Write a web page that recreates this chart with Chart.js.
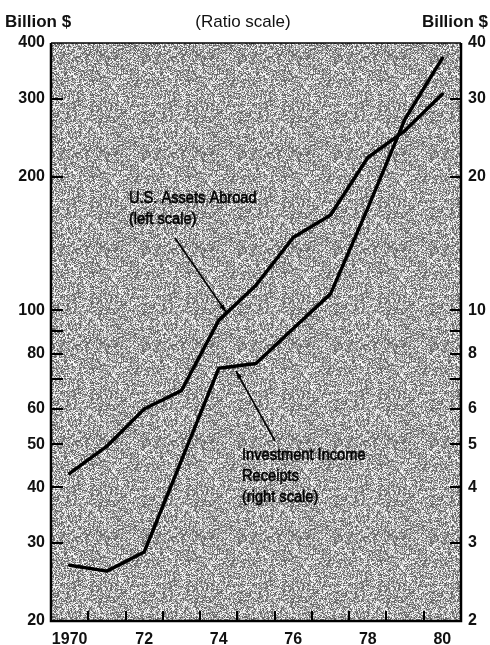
<!DOCTYPE html>
<html>
<head>
<meta charset="utf-8">
<script src="https://cdn.jsdelivr.net/npm/chart.js@4/dist/chart.umd.min.js"></script>
<style>
  html, body { margin: 0; padding: 0; background: #fff; }
  #wrap { width: 490px; height: 645px; position: relative; }
</style>
</head>
<body>
<div id="wrap"><canvas id="c" width="490" height="645"></canvas></div>
<script>
// Years on the horizontal axis and the shortened labels printed under them
const years = ['1970', '1971', '1972', '1973', '1974', '1975', '1976', '1977', '1978', '1979', '1980'];
const yearLabels = ['1970', '', '72', '', '74', '', '76', '', '78', '', '80'];

// U.S. assets abroad, billion $ (left scale)
const assetsAbroad = [43, 49.5, 60, 66, 95, 114, 146, 164, 221, 254, 307];
// Investment income receipts, billion $ (right scale)
const incomeReceipts = [2.67, 2.59, 2.86, 4.6, 7.41, 7.6, 9.11, 10.9, 17.0, 27.0, 37.0];

// Ratio-scale tick marks and which of them carry a label
const leftTicks = [20, 30, 40, 50, 60, 70, 80, 90, 100, 200, 300, 400];
const leftLabels = [20, 30, 40, 50, 60, 80, 100, 200, 300, 400];
const rightTicks = [2, 3, 4, 5, 6, 7, 8, 9, 10, 20, 30, 40];
const rightLabels = [2, 3, 4, 5, 6, 8, 10, 20, 30, 40];

const FONT = "'Liberation Sans', Arial, Helvetica, sans-serif";

// Stippled halftone fill for the plotting area (deterministic hash noise)
function makeStipple() {
  const n = 96;
  const cv = document.createElement('canvas');
  cv.width = n; cv.height = n;
  const g = cv.getContext('2d');
  const img = g.createImageData(n, n);
  for (let y = 0; y < n; y++) {
    for (let x = 0; x < n; x++) {
      let h = (x * 374761393 + y * 668265263) | 0;
      h = Math.imul(h ^ (h >>> 13), 1274126177);
      h = (h ^ (h >>> 16)) >>> 0;
      const r = h % 100;
      let v;
      if (r < 35) v = 105;
      else if (r < 60) v = 160;
      else if (r < 75) v = 205;
      else v = 245;
      const i = (y * n + x) * 4;
      img.data[i] = v; img.data[i + 1] = v; img.data[i + 2] = v; img.data[i + 3] = 255;
    }
  }
  g.putImageData(img, 0, 0);
  return cv;
}
const stipple = makeStipple();

const framePlugin = {
  id: 'frame',
  beforeDatasetsDraw(chart) {
    const { ctx, chartArea: a } = chart;
    ctx.save();
    ctx.fillStyle = ctx.createPattern(stipple, 'repeat');
    ctx.fillRect(a.left, a.top, a.right - a.left, a.bottom - a.top);
    ctx.restore();
  },
  afterDatasetsDraw(chart) {
    const { ctx, chartArea: a, scales } = chart;
    ctx.save();
    ctx.strokeStyle = '#000';
    ctx.lineCap = 'butt';
    // frame
    ctx.lineWidth = 1.5;
    ctx.beginPath();
    ctx.moveTo(a.left, a.top); ctx.lineTo(a.right, a.top);
    ctx.stroke();
    ctx.lineWidth = 2.5;
    ctx.beginPath();
    ctx.moveTo(a.left, a.top); ctx.lineTo(a.left, a.bottom);
    ctx.lineTo(a.right, a.bottom); ctx.lineTo(a.right, a.top);
    ctx.stroke();
    // inward tick marks
    ctx.lineWidth = 2;
    const yl = scales.yL, yr = scales.yR, x = scales.x;
    yl.ticks.forEach(t => {
      if (t.value <= yl.min || t.value >= yl.max) return;
      const py = Math.round(yl.getPixelForValue(t.value));
      ctx.beginPath(); ctx.moveTo(a.left, py); ctx.lineTo(a.left + 12, py); ctx.stroke();
    });
    yr.ticks.forEach(t => {
      if (t.value <= yr.min || t.value >= yr.max) return;
      const py = Math.round(yr.getPixelForValue(t.value));
      ctx.beginPath(); ctx.moveTo(a.right, py); ctx.lineTo(a.right - 11, py); ctx.stroke();
    });
    for (let i = 0; i < years.length - 1; i++) {
      const px = Math.round((x.getPixelForValue(i) + x.getPixelForValue(i + 1)) / 2);
      ctx.beginPath(); ctx.moveTo(px, a.bottom); ctx.lineTo(px, a.bottom - 10); ctx.stroke();
    }
    ctx.restore();
  },
  afterDraw(chart) {
    const { ctx } = chart;
    ctx.save();
    ctx.fillStyle = '#111';
    ctx.textBaseline = 'middle';
    ctx.font = 'bold 17px ' + FONT;
    ctx.textAlign = 'left';
    ctx.fillText('Billion $', 5, 22);
    ctx.textAlign = 'right';
    ctx.fillText('Billion $', 488, 22);
    ctx.font = '17px ' + FONT;
    ctx.textAlign = 'center';
    ctx.fillText('(Ratio scale)', 243, 22);

    // series notes with pointer arrows
    const note = (lines, x0, y0, step) => {
      ctx.save();
      ctx.font = '17px ' + FONT;
      ctx.textAlign = 'left';
      ctx.textBaseline = 'alphabetic';
      ctx.fillStyle = '#000';
      ctx.strokeStyle = '#000';
      ctx.lineWidth = 0.6;
      ctx.translate(x0, y0);
      ctx.scale(0.86, 1);
      lines.forEach((s, i) => {
        ctx.fillText(s, 0, i * step);
        ctx.strokeText(s, 0, i * step);
      });
      ctx.restore();
    };
    const arrow = (x1, y1, x2, y2) => {
      ctx.save();
      ctx.strokeStyle = '#000';
      ctx.fillStyle = '#000';
      ctx.lineWidth = 1.6;
      ctx.beginPath(); ctx.moveTo(x1, y1); ctx.lineTo(x2, y2); ctx.stroke();
      const ang = Math.atan2(y2 - y1, x2 - x1);
      const L = 8, W = 2.6;
      ctx.beginPath();
      ctx.moveTo(x2, y2);
      ctx.lineTo(x2 - L * Math.cos(ang) + W * Math.sin(ang), y2 - L * Math.sin(ang) - W * Math.cos(ang));
      ctx.lineTo(x2 - L * Math.cos(ang) - W * Math.sin(ang), y2 - L * Math.sin(ang) + W * Math.cos(ang));
      ctx.closePath(); ctx.fill();
      ctx.restore();
    };
    note(['U.S. Assets Abroad', '(left scale)'], 129, 203, 21);
    arrow(175, 238, 226, 312);
    note(['Investment Income', 'Receipts', '(right scale)'], 242, 460, 21);
    arrow(275, 441, 236, 371);
    ctx.restore();
  }
};

const tickFont = { family: FONT, size: 16, weight: 'bold' };

new Chart(document.getElementById('c'), {
  type: 'line',
  data: {
    labels: years,
    datasets: [
      {
        label: 'U.S. Assets Abroad',
        data: assetsAbroad,
        yAxisID: 'yL',
        borderColor: '#000',
        borderWidth: 3.5,
        pointRadius: 0,
        tension: 0,
        borderJoinStyle: 'round',
        borderCapStyle: 'round'
      },
      {
        label: 'Investment Income Receipts',
        data: incomeReceipts,
        yAxisID: 'yR',
        borderColor: '#000',
        borderWidth: 3.5,
        pointRadius: 0,
        tension: 0,
        borderJoinStyle: 'round',
        borderCapStyle: 'round'
      }
    ]
  },
  options: {
    responsive: false,
    animation: false,
    devicePixelRatio: 1,
    layout: { padding: { top: 43, left: 0, right: 0, bottom: 0 } },
    plugins: { legend: { display: false }, tooltip: { enabled: false } },
    scales: {
      x: {
        type: 'category',
        offset: true,
        grid: { display: false, drawTicks: false },
        border: { display: false },
        ticks: {
          autoSkip: false,
          maxRotation: 0,
          padding: 9,
          color: '#111',
          font: tickFont,
          callback: (v, i) => yearLabels[i]
        },
        afterFit: s => { s.height = 24; }
      },
      yL: {
        type: 'logarithmic',
        position: 'left',
        min: 20,
        max: 400,
        grid: { display: false, drawTicks: false },
        border: { display: false },
        afterBuildTicks: s => { s.ticks = leftTicks.map(v => ({ value: v })); },
        ticks: {
          padding: 6,
          color: '#111',
          font: tickFont,
          callback: v => leftLabels.includes(v) ? String(v) : ''
        },
        afterFit: s => { s.width = 51; }
      },
      yR: {
        type: 'logarithmic',
        position: 'right',
        min: 2,
        max: 40,
        grid: { display: false, drawTicks: false },
        border: { display: false },
        afterBuildTicks: s => { s.ticks = rightTicks.map(v => ({ value: v })); },
        ticks: {
          padding: 7,
          color: '#111',
          font: tickFont,
          callback: v => rightLabels.includes(v) ? String(v) : ''
        },
        afterFit: s => { s.width = 29; }
      }
    }
  },
  plugins: [framePlugin]
});
</script>
</body>
</html>
